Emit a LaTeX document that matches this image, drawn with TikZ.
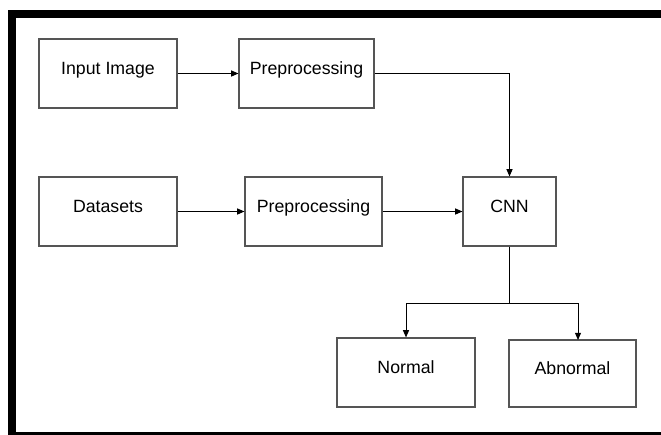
\documentclass[tikz,border=0pt]{standalone}
\usepackage{fontspec}
\setmainfont{Liberation Sans}
\usepackage{tikz}
\usetikzlibrary{positioning, arrows.meta, calc}
\definecolor{boxgray}{RGB}{85, 85, 85}

\begin{document}
\begin{tikzpicture}[x=0.025cm, y=-0.025cm, font=\fontsize{12.6}{15}\selectfont,
    >={Triangle[length=0.18cm, width=0.15cm]},
    blk/.style={draw=boxgray, line width=0.8pt, minimum height=1.725cm,
                text height=0.75em, text depth=0.6em, inner sep=0pt},
    flow/.style={->, line width=0.7pt}]
  \useasboundingbox (0,0) rectangle (661,434);
  \clip (0,0) rectangle (661,434);
  % outer frame (cut off at right and bottom)
  \draw[line width=0.2cm] (12,14) rectangle (680,436);
  % Top row
  \node[blk, minimum width=3.45cm]  (img)  at (108, 73.5)   {Input Image};
  \node[blk, minimum width=3.375cm] (pre1) at (306.5, 73.5) {Preprocessing};
  % Middle row
  \node[blk, minimum width=3.45cm]  (data) at (108, 211.5)   {Datasets};
  \node[blk, minimum width=3.425cm] (pre2) at (313.5, 211.5) {Preprocessing};
  \node[blk, minimum width=2.325cm] (cnn)  at (509.5, 211.5) {CNN};
  % Outputs
  \node[blk, minimum width=3.45cm]  (norm) at (406, 372.5) {Normal};
  \node[blk, minimum width=3.175cm, minimum height=1.675cm] (abn) at (572.5, 373.5) {Abnormal};
  \coordinate (split) at (509.5, 303);
  \coordinate (abnin) at (578, 340);
  % Connectors
  \draw[flow] (img) -- (pre1);
  \draw[flow] (pre1.east) -| (cnn.north);
  \draw[flow] (data) -- (pre2);
  \draw[flow] (pre2) -- (cnn);
  \draw[line width=0.7pt] (cnn.south) -- (split);
  \draw[flow] (split) -| (norm.north);
  \draw[flow] (split) -| (abnin);
\end{tikzpicture}
\end{document}
